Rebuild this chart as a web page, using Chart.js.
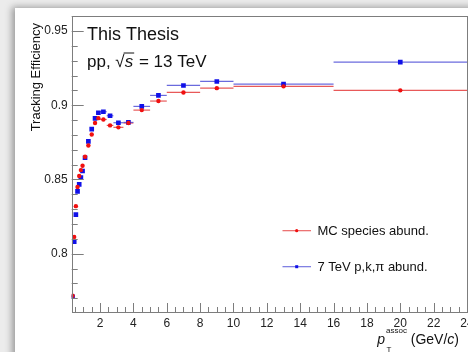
<!DOCTYPE html>
<html>
<head>
<meta charset="utf-8">
<script src="https://cdn.jsdelivr.net/npm/chart.js@4/dist/chart.umd.min.js"></script>
<style>
html,body{margin:0;padding:0;width:468px;height:352px;overflow:hidden;background:#ececec;}
#panel{position:absolute;left:15px;top:8px;width:470px;height:360px;background:#fff;box-shadow:-3px -1px 7px rgba(0,0,0,0.35);}
#c{position:absolute;left:0;top:0;}
</style>
</head>
<body>
<div id="panel"></div>
<canvas id="c" width="480" height="352" style="width:480px;height:352px"></canvas>
<script>
// ---- data ----
const binLow    = [0.3,0.4,0.5,0.6,0.7,0.8,0.9,1.0,1.2,1.4,1.6,1.8,2.0,2.4,2.8,3.4,4,5,6,8,10,16];
const binHigh   = [0.4,0.5,0.6,0.7,0.8,0.9,1.0,1.2,1.4,1.6,1.8,2.0,2.4,2.8,3.4,4,5,6,8,10,16,24];
const ptCenter  = [0.35,0.45,0.55,0.65,0.75,0.85,0.95,1.1,1.3,1.5,1.7,1.9,2.2,2.6,3.1,3.7,4.5,5.5,7,9,13,20];
const effMC     = [0.7716,0.8113,0.8320,0.8449,0.8523,0.8563,0.8592,0.8653,0.8729,0.8803,0.8880,0.8913,0.8904,0.8864,0.8851,0.8880,0.8967,0.9028,0.9086,0.9115,0.9127,0.9100];
const eff7TeV   = [0.7710,0.8080,0.8263,0.8420,0.8467,0.8512,0.8557,0.8646,0.8756,0.8839,0.8911,0.8949,0.8956,0.8929,0.8882,0.8884,0.8992,0.9066,0.9133,0.9160,0.9142,0.9290];
const seriesLabels = ["MC species abund.", "7 TeV p,k,\u03c0 abund."];
const xTitle = {main:"p", sub:"T", sup:"assoc", unit:"(GeV/c)"};
const yTitle = "Tracking Efficiency";
const textLine1 = "This Thesis";
const textLine2 = {pre:"pp, ", root:"s", post:" = 13 TeV"};

const FONT = '"Liberation Sans", Arial, Helvetica, sans-serif';
const FRAME = '#7d7d7d';
const RED = '#f01010', BLUE = '#1010e8';
const RED_BAR = 'rgba(228,60,60,0.85)', BLUE_BAR = 'rgba(80,80,215,0.85)';

function pts(vals){ return ptCenter.map((x,i)=>({x:x, y:vals[i]})); }

const rootPlugin = {
  id:'rootStyle',
  beforeDatasetsDraw(chart){
    const ctx = chart.ctx, xs = chart.scales.x, ys = chart.scales.y;
    ctx.save();
    ctx.lineWidth = 1.2;
    chart.data.datasets.forEach((ds)=>{
      ctx.strokeStyle = ds.barColor;
      ds.data.forEach((p,i)=>{
        const y = ys.getPixelForValue(p.y);
        ctx.beginPath();
        ctx.moveTo(xs.getPixelForValue(binLow[i]), y);
        ctx.lineTo(xs.getPixelForValue(binHigh[i]), y);
        ctx.stroke();
      });
    });
    ctx.restore();
  },
  afterDraw(chart){
    const ctx = chart.ctx, xs = chart.scales.x, ys = chart.scales.y, a = chart.chartArea;
    ctx.save();
    // frame
    ctx.strokeStyle = FRAME; ctx.lineWidth = 1;
    ctx.strokeRect(Math.round(a.left)+0.5, Math.round(a.top)+0.5, Math.round(a.right-a.left), Math.round(a.bottom-a.top));
    // y ticks (inward)
    ctx.beginPath();
    for(let k=76; k<=96; k++){
      const v = k/100; const y = Math.round(ys.getPixelForValue(v))+0.5;
      if (y < a.top || y > a.bottom) continue;
      const len = (k%5===0) ? 12 : 6;
      ctx.moveTo(a.left, y); ctx.lineTo(a.left+len, y);
    }
    // x ticks (inward)
    for(let k=1; k<=48; k++){
      const v = k/2; const x = Math.round(xs.getPixelForValue(v))+0.5;
      if (x < a.left || x > a.right) continue;
      const len = (k%4===0) ? 9 : 5;
      ctx.moveTo(x, a.bottom); ctx.lineTo(x, a.bottom-len);
    }
    ctx.stroke();

    // y title (rotated, right-aligned near the top like ROOT)
    ctx.save();
    ctx.translate(36.5, 23);
    ctx.rotate(-Math.PI/2);
    ctx.fillStyle = '#111';
    ctx.font = '13px ' + FONT;
    ctx.textAlign = 'right'; ctx.textBaseline = 'middle';
    ctx.fillText(yTitle, 0, 0);
    ctx.restore();

    // texts
    ctx.fillStyle = '#111';
    ctx.textBaseline = 'alphabetic'; ctx.textAlign = 'left';
    ctx.font = '18px ' + FONT;
    ctx.fillText(textLine1, 87, 39.5);
    ctx.font = '17px ' + FONT;
    let x = 87; const bl = 66.5;
    ctx.fillText(textLine2.pre, x, bl); x += ctx.measureText(textLine2.pre).width;
    ctx.fillText('\u221a', x, bl); const rw = ctx.measureText('\u221a').width; x += rw;
    ctx.font = 'italic 17px ' + FONT;
    const sw = ctx.measureText(textLine2.root).width;
    ctx.fillText(textLine2.root, x, bl);
    ctx.strokeStyle = '#111'; ctx.lineWidth = 1;
    ctx.beginPath(); ctx.moveTo(x-1, bl-13.5); ctx.lineTo(x+sw+1, bl-13.5); ctx.stroke();
    x += sw + 1;
    ctx.font = '17px ' + FONT;
    ctx.fillText(textLine2.post, x, bl);

    // x title, right aligned at 459
    const FS = 14, SS = 8;
    ctx.font = 'italic ' + FS + 'px ' + FONT;
    const cW = ctx.measureText('c').width;
    const pW = ctx.measureText(xTitle.main).width;
    ctx.font = FS + 'px ' + FONT;
    const unitTxt = ' (GeV/';
    const closeW = ctx.measureText(')').width;
    const unitW = ctx.measureText(unitTxt).width;
    ctx.font = SS + 'px ' + FONT;
    const supW = ctx.measureText(xTitle.sup).width;
    let xe = 459 - closeW - cW - unitW - supW - pW - 1;
    const tb = 343.5;
    ctx.font = 'italic ' + FS + 'px ' + FONT;
    ctx.fillText(xTitle.main, xe, tb); xe += pW + 1;
    ctx.font = SS + 'px ' + FONT;
    ctx.fillText(xTitle.sup, xe, 333);
    ctx.fillText(xTitle.sub, xe + 0.5, 351.5);
    xe += supW;
    ctx.font = FS + 'px ' + FONT;
    ctx.fillText(unitTxt, xe, tb); xe += unitW;
    ctx.font = 'italic ' + FS + 'px ' + FONT;
    ctx.fillText('c', xe, tb); xe += cW;
    ctx.font = FS + 'px ' + FONT;
    ctx.fillText(')', xe, tb);

    // legend
    const entries = [{y:230.7}, {y:266.7}];
    chart.data.datasets.forEach((ds, i)=>{
      const y = entries[i].y;
      ctx.strokeStyle = ds.barColor; ctx.lineWidth = 1.1;
      ctx.beginPath(); ctx.moveTo(282.5, y); ctx.lineTo(311, y); ctx.stroke();
      ctx.fillStyle = ds.pointBackgroundColor;
      if (ds.pointStyle === 'circle'){ ctx.beginPath(); ctx.arc(296.7, y, 1.6, 0, Math.PI*2); ctx.fill(); }
      else { ctx.fillRect(295.2, y-1.5, 3, 3); }
      ctx.fillStyle = '#111';
      ctx.font = '13px ' + FONT;
      ctx.fillText(ds.label, 317.5, y + 4.7);
    });
    ctx.restore();
  }
};

new Chart(document.getElementById('c'), {
  type:'scatter',
  data:{ datasets:[
    {label:seriesLabels[0], data:pts(effMC), pointStyle:'circle', pointRadius:2.2, pointBorderWidth:0,
     pointBackgroundColor:RED, pointBorderColor:RED, backgroundColor:RED, borderColor:RED, barColor:RED_BAR, showLine:false},
    {label:seriesLabels[1], data:pts(eff7TeV), pointStyle:'rect', pointRadius:3.3, pointBorderWidth:0,
     pointBackgroundColor:BLUE, pointBorderColor:BLUE, backgroundColor:BLUE, borderColor:BLUE, barColor:BLUE_BAR, showLine:false}
  ]},
  options:{
    responsive:false, animation:false, devicePixelRatio:1,
    layout:{padding:{top:15.7, right:13, bottom:0, left:0}},
    plugins:{legend:{display:false}, tooltip:{enabled:false}},
    scales:{
      x:{type:'linear', min:0.3, max:24,
         grid:{display:false, drawTicks:false}, border:{display:false},
         ticks:{stepSize:2, includeBounds:false, autoSkip:false, maxRotation:0, padding:4,
                color:'#222', font:{family:FONT, size:12},
                callback:(v)=>String(Math.round(v))},
         afterFit:(s)=>{ s.height = 40; }},
      y:{type:'linear', min:0.7607, max:0.9603,
         grid:{display:false, drawTicks:false}, border:{display:false},
         ticks:{stepSize:0.05, includeBounds:false, padding:4, color:'#222', font:{family:FONT, size:12},
                callback:(v)=>String(Number(v.toFixed(2)))},
         afterFit:(s)=>{ s.width = 71.7; }}
    }
  },
  plugins:[rootPlugin]
});
</script>
</body>
</html>
